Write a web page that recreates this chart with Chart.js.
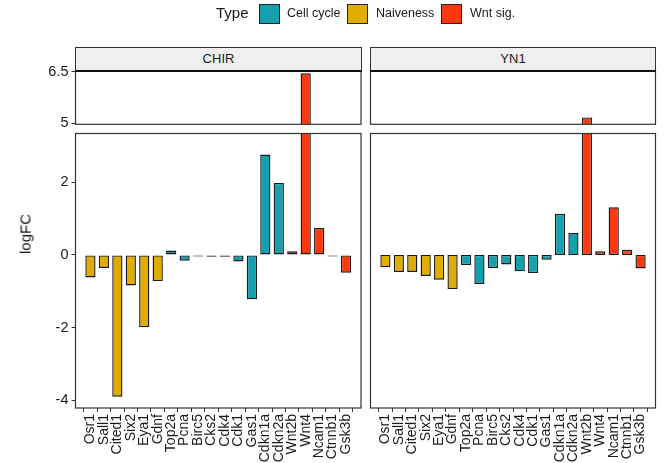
<!DOCTYPE html>
<html>
<head>
<meta charset="utf-8">
<script src="https://cdn.jsdelivr.net/npm/chart.js@4.4.1/dist/chart.umd.min.js"></script>
<style>
  body { margin: 0; background: #fff; }
  #wrap { position: relative; width: 665px; height: 463px; overflow: hidden; font-family: "Liberation Sans", Arial, sans-serif; color: #1a1a1a; }
  canvas { position: absolute; left: 0; top: 0; }
  .strip { position: absolute; top: 47px; height: 22px; background: #efefef; border: 1px solid #333; border-bottom: 2px solid #111; font-size: 13px; text-align: center; line-height: 22px; box-sizing: content-box; }
  .key { position: absolute; top: 4px; width: 19px; height: 18px; border: 1.5px solid #222; }
  .lab { position: absolute; top: 6px; font-size: 12.5px; }
</style>
</head>
<body>
<div id="wrap">
  <canvas id="tl" width="665" height="463"></canvas>
  <canvas id="bl" width="665" height="463"></canvas>
  <canvas id="tr" width="665" height="463"></canvas>
  <canvas id="br" width="665" height="463"></canvas>

  <div style="position:absolute;left:216px;top:4px;font-size:15px;">Type</div>
  <div class="key" style="left:259px;background:#14a0ac;"></div>
  <div class="lab" style="left:287px;">Cell cycle</div>
  <div class="key" style="left:347px;background:#e0ac00;"></div>
  <div class="lab" style="left:376px;">Naiveness</div>
  <div class="key" style="left:441px;background:#fb390c;"></div>
  <div class="lab" style="left:470px;">Wnt sig.</div>

  <div class="strip" style="left:75px;width:285px;">CHIR</div>
  <div class="strip" style="left:370px;width:284px;">YN1</div>

  <div style="position:absolute;left:25px;top:234px;font-size:15px;transform:translate(-50%,-50%) rotate(-90deg);">logFC</div>
</div>

<script>
const genes = ['Osr1', 'Sall1', 'Cited1', 'Six2', 'Eya1', 'Gdnf', 'Top2a', 'Pcna', 'Birc5', 'Cks2',
               'Cdk4', 'Cdk1', 'Gas1', 'Cdkn1a', 'Cdkn2a', 'Wnt2b', 'Wnt4', 'Ncam1', 'Ctnnb1', 'Gsk3b'];
const geneType = ['Naiveness', 'Naiveness', 'Naiveness', 'Naiveness', 'Naiveness', 'Naiveness',
                  'Cell cycle', 'Cell cycle', 'Cell cycle', 'Cell cycle', 'Cell cycle', 'Cell cycle',
                  'Cell cycle', 'Cell cycle', 'Cell cycle',
                  'Wnt sig.', 'Wnt sig.', 'Wnt sig.', 'Wnt sig.', 'Wnt sig.'];
const chirLogFC = [-0.62, -0.36, -3.90, -0.84, -1.99, -0.72, 0.12, -0.16, -0.02, -0.05,
                   -0.05, -0.18, -1.22, 2.76, 1.98, 0.10, 6.45, 0.74, -0.03, -0.49];
const yn1LogFC = [-0.34, -0.47, -0.47, -0.58, -0.68, -0.94, -0.28, -0.80, -0.36, -0.26,
                  -0.45, -0.50, -0.13, 1.13, 0.60, 5.17, 0.10, 1.31, 0.14, -0.37];
const lowerTicks = [-4, -2, 0, 2];
const upperTicks = [5, 6.5];

const typeColors = { 'Cell cycle': '#14a0ac', 'Naiveness': '#e0ac00', 'Wnt sig.': '#fb390c' };

Chart.defaults.font.family = '"Liberation Sans", Arial, sans-serif';
Chart.defaults.color = '#1a1a1a';

// panel border drawn over the bars, like ggplot
const frame = {
    id: 'frame',
    afterDatasetsDraw(chart) {
        const a = chart.chartArea;
        const ctx = chart.ctx;
        ctx.save();
        ctx.strokeStyle = '#333';
        ctx.lineWidth = 1.2;
        ctx.strokeRect(a.left, a.top, a.right - a.left, a.bottom - a.top);
        ctx.restore();
    }
};

function makePanel(id, values, opts) {
    const ctx = document.getElementById(id).getContext('2d');
    return new Chart(ctx, {
        type: 'bar',
        data: {
            datasets: [{
                data: values.map((v, i) => ({ x: i, y: v })),
                backgroundColor: geneType.map(t => typeColors[t]),
                borderColor: '#1a1a1a',
                borderWidth: 1.4,
                borderSkipped: false,
                barPercentage: 0.76,
                categoryPercentage: 1,
                minBarLength: 1.5,
                clip: 0
            }]
        },
        plugins: [frame],
        options: {
            responsive: false,
            animation: false,
            layout: { padding: opts.padding },
            plugins: { legend: { display: false }, tooltip: { enabled: false } },
            scales: {
                x: {
                    type: 'linear',
                    min: -0.58,
                    max: genes.length - 1 + 0.58,
                    display: opts.showX,
                    afterBuildTicks: s => { s.ticks = genes.map((g, i) => ({ value: i })); },
                    afterFit: s => { if (opts.showX) s.height = 55; },
                    ticks: {
                        autoSkip: false,
                        minRotation: 90,
                        maxRotation: 90,
                        padding: 2,
                        font: { size: 14 },
                        color: '#1a1a1a',
                        callback: v => genes[v]
                    },
                    grid: { drawOnChartArea: false, tickLength: 4, tickColor: '#333' },
                    border: { display: false }
                },
                y: {
                    min: opts.min,
                    max: opts.max,
                    display: opts.showY,
                    afterBuildTicks: s => { s.ticks = opts.ticks.map(v => ({ value: v })); },
                    afterFit: s => { if (opts.showY) s.width = 75.5; },
                    ticks: { padding: 3, font: { size: 14.5 }, color: '#1a1a1a' },
                    grid: { drawOnChartArea: false, tickLength: 4, tickColor: '#333' },
                    border: { display: false }
                }
            }
        }
    });
}

makePanel('tl', chirLogFC, {
    min: 4.97, max: 6.53, ticks: upperTicks, showX: false, showY: true,
    padding: { left: 0, right: 304, top: 70.5, bottom: 338.7 }
});
makePanel('bl', chirLogFC, {
    min: -4.21, max: 3.34, ticks: lowerTicks, showX: true, showY: true,
    padding: { left: 0, right: 304, top: 133.5, bottom: 0 }
});
makePanel('tr', yn1LogFC, {
    min: 4.97, max: 6.53, ticks: upperTicks, showX: false, showY: false,
    padding: { left: 370.5, right: 9.5, top: 70.5, bottom: 338.7 }
});
makePanel('br', yn1LogFC, {
    min: -4.21, max: 3.34, ticks: lowerTicks, showX: true, showY: false,
    padding: { left: 370.5, right: 9.5, top: 133.5, bottom: 0 }
});
</script>
</body>
</html>
